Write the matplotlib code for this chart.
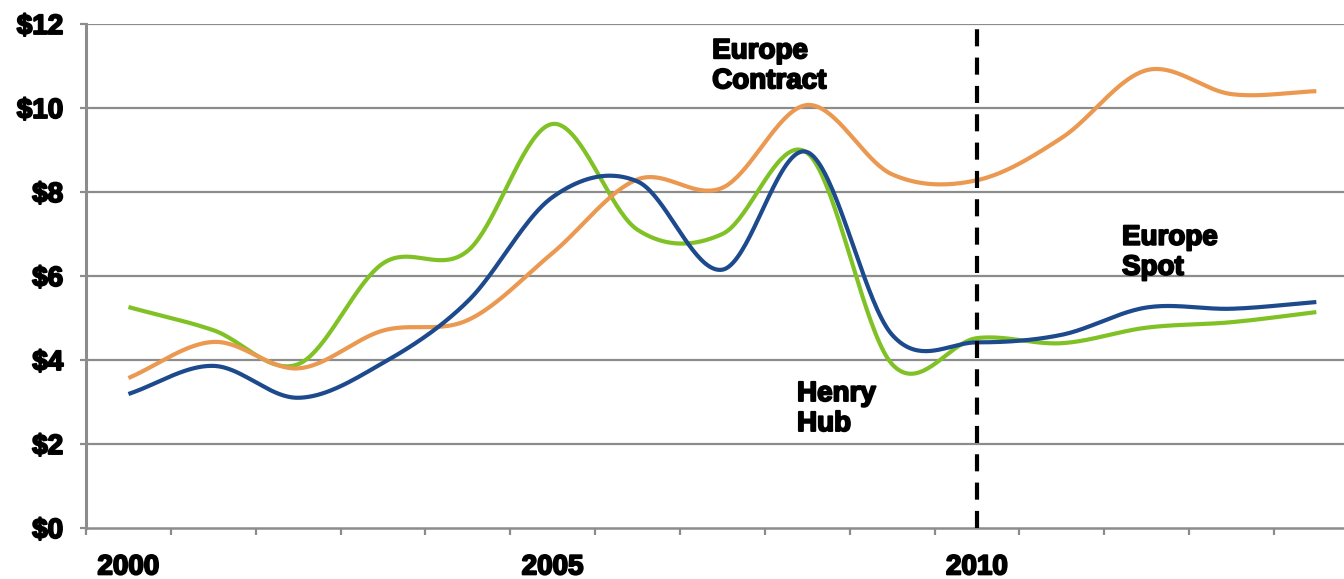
import numpy as np
import matplotlib
matplotlib.use('Agg')
import matplotlib.pyplot as plt
import matplotlib.patheffects as pe

plt.rcParams['font.family'] = ['Liberation Sans', 'DejaVu Sans']

# 年度气价 ($/MMBtu)
years = [2000, 2001, 2002, 2003, 2004, 2005, 2006, 2007,
         2008, 2009, 2010, 2011, 2012, 2013, 2014]
henry_hub = [3.19, 3.86, 3.10, 3.93, 5.40, 7.88, 8.25, 6.15,
             8.95, 4.60, 4.42, 4.60, 5.25, 5.22, 5.38]
europe_spot = [5.26, 4.71, 3.90, 6.30, 6.60, 9.62, 7.10, 7.00,
               8.93, 3.90, 4.52, 4.40, 4.77, 4.90, 5.14]
europe_contract = [3.57, 4.43, 3.80, 4.70, 4.95, 6.55, 8.30, 8.10,
                   10.07, 8.42, 8.28, 9.29, 10.90, 10.33, 10.40]

y_ticks = [0, 2, 4, 6, 8, 10, 12]
x_labels = [2000, 2005, 2010]


def smooth(x, y, n=40):
    """Catmull-Rom 平滑曲线 (类似 Excel 的平滑线)"""
    x = np.asarray(x, float)
    y = np.asarray(y, float)
    m = np.empty_like(y)
    m[1:-1] = (y[2:] - y[:-2]) / 2
    m[0] = y[1] - y[0]
    m[-1] = y[-1] - y[-2]
    xs, ys = [], []
    t = np.linspace(0, 1, n, endpoint=False)
    h00 = 2 * t**3 - 3 * t**2 + 1
    h10 = t**3 - 2 * t**2 + t
    h01 = -2 * t**3 + 3 * t**2
    h11 = t**3 - t**2
    for i in range(len(x) - 1):
        xs.append(x[i] + t * (x[i + 1] - x[i]))
        ys.append(h00 * y[i] + h10 * m[i] + h01 * y[i + 1] + h11 * m[i + 1])
    xs.append([x[-1]])
    ys.append([y[-1]])
    return np.concatenate(xs), np.concatenate(ys)


fig = plt.figure(figsize=(13.44, 5.79), dpi=100)
ax = fig.add_axes([0.064, 0.0881, 0.936, 0.8705])

grid_color = '#8c8c8c'
for v in y_ticks[1:]:
    ax.axhline(v, color=grid_color, lw=1.6, zorder=1)

series = [
    (europe_spot, '#80c226'),
    (europe_contract, '#eb9850'),
    (henry_hub, '#1d4a8d'),
]
for vals, col in series:
    sx, sy = smooth(years, vals)
    ax.plot(sx, sy, color=col, lw=3.0, solid_capstyle='butt', zorder=3)

# 2010 分界线
ax.plot([2010, 2010], [0, 11.95], color='black', lw=3.0,
        dashes=(4.1, 2.7), zorder=4)

ax.set_yticks(y_ticks)
ax.set_yticklabels([f'${v}' for v in y_ticks])
ax.set_xticks(x_labels)
ax.set_xticklabels([str(v) for v in x_labels])
ax.set_xticks(np.arange(1999.5, 2014.2, 1.0), minor=True)

ax.set_xlim(1999.5, 2014.326)
ax.set_ylim(0, 12)

for s in ['top', 'right']:
    ax.spines[s].set_visible(False)
ax.spines['left'].set_color(grid_color)
ax.spines['left'].set_linewidth(2.2)
ax.spines['bottom'].set_color(grid_color)
ax.spines['bottom'].set_linewidth(1.8)

ax.tick_params(axis='y', length=4.5, width=1.6, color=grid_color, pad=12,
               labelsize=20)
ax.tick_params(axis='x', which='major', length=0, pad=19, labelsize=20)
ax.tick_params(axis='x', which='minor', length=5, width=1.6, color=grid_color)

stroke = [pe.withStroke(linewidth=1.4, foreground='black')]
for lab in ax.get_xticklabels() + ax.get_yticklabels():
    lab.set_fontweight('bold')
    lab.set_path_effects(stroke)

notes = [
    (2006.88, 11.66, 'Europe\nContract'),
    (2007.88, 3.50, 'Henry\nHub'),
    (2011.71, 7.22, 'Europe\nSpot'),
]
for nx, ny, txt in notes:
    ax.text(nx, ny, txt, fontsize=20, fontweight='bold', ha='left',
            va='top', linespacing=1.2, path_effects=stroke, zorder=5)

fig.savefig('out.png', dpi=100)
